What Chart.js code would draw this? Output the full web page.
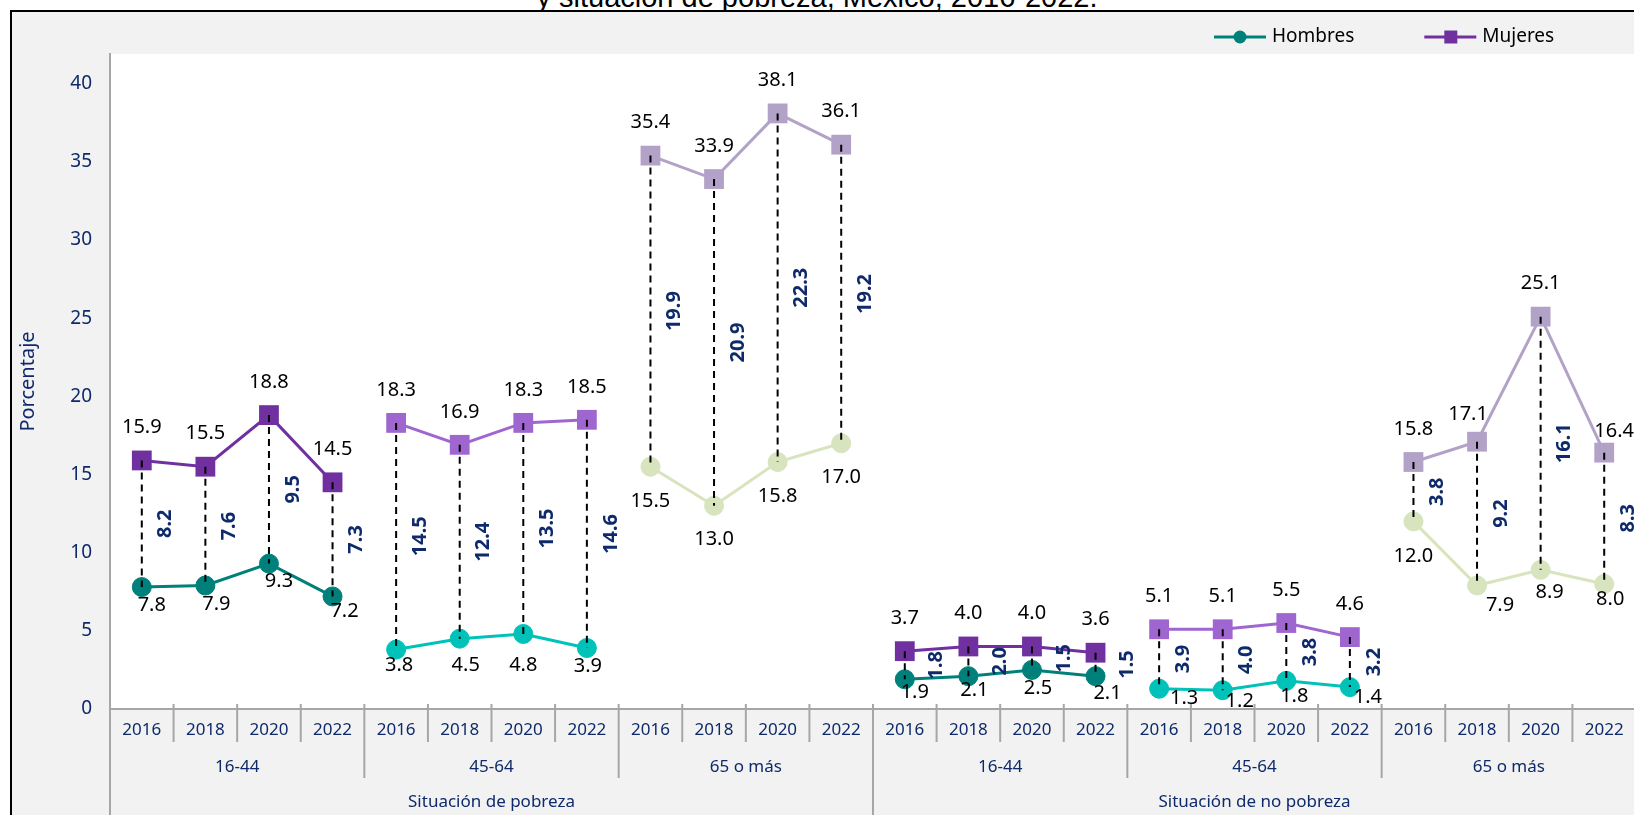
<!DOCTYPE html>
<html>
<head>
<meta charset="utf-8">
<script src="https://cdn.jsdelivr.net/npm/chart.js"></script>
<style>
html, body { margin: 0; padding: 0; background: #fff; overflow: hidden; }
#titulo { position: absolute; left: 0; top: -20px; width: 1634px; text-align: center; font: 29px "Liberation Sans", Arial, sans-serif; line-height: 34px; color: #000; white-space: nowrap; }
#marco { position: absolute; left: 10px; top: 10px; width: 1640px; height: 820px; border: 2px solid #000; box-sizing: border-box; background: #f2f2f2; }
#caja { position: absolute; left: 12px; top: 12px; }
</style>
</head>
<body>
<div id="titulo">y situación de pobreza, México, 2016-2022.</div>
<div id="marco"></div>
<div id="caja"><canvas id="grafica" width="1624" height="803"></canvas></div>
<script>
var anios = ['2016', '2018', '2020', '2022'];
var gruposEdad = ['16-44', '45-64', '65 o más'];
var situaciones = ['Situación de pobreza', 'Situación de no pobreza'];
var hombres = [7.8, 7.9, 9.3, 7.2, 3.8, 4.5, 4.8, 3.9, 15.5, 13.0, 15.8, 17.0,
               1.9, 2.1, 2.5, 2.1, 1.3, 1.2, 1.8, 1.4, 12.0, 7.9, 8.9, 8.0];
var mujeres = [15.9, 15.5, 18.8, 14.5, 18.3, 16.9, 18.3, 18.5, 35.4, 33.9, 38.1, 36.1,
               3.7, 4.0, 4.0, 3.6, 5.1, 5.1, 5.5, 4.6, 15.8, 17.1, 25.1, 16.4];
var brecha = [8.2, 7.6, 9.5, 7.3, 14.5, 12.4, 13.5, 14.6, 19.9, 20.9, 22.3, 19.2,
              1.8, 2.0, 1.5, 1.5, 3.9, 4.0, 3.8, 3.2, 3.8, 9.2, 16.1, 8.3];
var yTicks = [0, 5, 10, 15, 20, 25, 30, 35, 40];

// colores por grupo de edad
var colH = ['#00807a', '#00c2b8', '#d7e4bd'];
var colM = ['#7030a0', '#a066d0', '#b3a2c7'];
var azul = '#0e2a6b';
var fuente = '"Noto Sans", sans-serif';

// desplazamiento de las etiquetas respecto al punto (px)
var despH = [[10, 18], [11, 19], [10, 18], [12, 15], [3, 16], [6, 27], [0, 31], [1, 18],
             [0, 35], [0, 34], [0, 34], [0, 34], [10, 13], [6, 14], [6, 18], [12, 17],
             [25, 10], [17, 11], [8, 15], [18, 10], [0, 35], [23, 20], [9, 22], [6, 15]];
var despM = { 21: [-9, -27], 23: [10, -21] };

var etiquetas = [];
situaciones.forEach(function () {
    gruposEdad.forEach(function () {
        anios.forEach(function (a) { etiquetas.push(a); });
    });
});
function bloque(i) { return Math.floor(i / anios.length); }
function grupo(i) { return bloque(i) % gruposEdad.length; }

var fondoPlot = {
    id: 'fondoPlot',
    beforeDraw: function (chart) {
        var a = chart.chartArea, ctx = chart.ctx;
        ctx.save();
        ctx.fillStyle = '#fff';
        ctx.fillRect(a.left, a.top, a.right - a.left, a.bottom - a.top);
        ctx.restore();
    }
};

var brechas = {
    id: 'brechas',
    afterDatasetsDraw: function (chart) {
        var ctx = chart.ctx;
        var mh = chart.getDatasetMeta(0).data, mm = chart.getDatasetMeta(1).data;
        ctx.save();
        ctx.strokeStyle = '#000';
        ctx.lineWidth = 2;
        ctx.setLineDash([7, 5]);
        mh.forEach(function (p, i) {
            ctx.beginPath();
            ctx.moveTo(mm[i].x, mm[i].y);
            ctx.lineTo(p.x, p.y);
            ctx.stroke();
        });
        ctx.setLineDash([]);
        ctx.textAlign = 'center';
        ctx.textBaseline = 'middle';
        ctx.fillStyle = '#000';
        ctx.font = '20px ' + fuente;
        hombres.forEach(function (v, i) {
            ctx.fillText(v.toFixed(1), mh[i].x + despH[i][0], mh[i].y + despH[i][1]);
        });
        mujeres.forEach(function (v, i) {
            var d = despM[i] || [0, -33];
            ctx.fillText(v.toFixed(1), mm[i].x + d[0], mm[i].y + d[1]);
        });
        ctx.fillStyle = azul;
        ctx.font = 'bold 20px ' + fuente;
        brecha.forEach(function (v, i) {
            var x = mh[i].x + (bloque(i) === 3 ? 32 : 24);
            var y = (mh[i].y + mm[i].y) / 2;
            ctx.save();
            ctx.translate(x, y);
            ctx.rotate(-Math.PI / 2);
            ctx.fillText(v.toFixed(1), 0, 0);
            ctx.restore();
        });
        ctx.restore();
    }
};

var ejeNiveles = {
    id: 'ejeNiveles',
    afterDraw: function (chart) {
        var ctx = chart.ctx, x = chart.scales.x, a = chart.chartArea;
        var w = x.getPixelForValue(1) - x.getPixelForValue(0);
        function borde(k) { return x.getPixelForValue(0) - w / 2 + k * w; }
        ctx.save();
        ctx.strokeStyle = '#a6a6a6';
        ctx.lineWidth = 2;
        for (var k = 0; k <= etiquetas.length; k++) {
            var fin = a.bottom + 33;
            if (k % 4 === 0) fin = a.bottom + 69;
            if (k % 12 === 0) fin = chart.height;
            ctx.beginPath();
            ctx.moveTo(borde(k), a.bottom - 5);
            ctx.lineTo(borde(k), fin);
            ctx.stroke();
        }
        ctx.fillStyle = azul;
        ctx.textAlign = 'center';
        ctx.textBaseline = 'middle';
        ctx.font = '17px ' + fuente;
        for (var g = 0; g < situaciones.length * gruposEdad.length; g++) {
            ctx.fillText(gruposEdad[g % 3], (borde(g * 4) + borde(g * 4 + 4)) / 2, a.bottom + 58);
        }
        situaciones.forEach(function (s, j) {
            ctx.fillText(s, (borde(j * 12) + borde(j * 12 + 12)) / 2, a.bottom + 93);
        });
        ctx.restore();
    }
};

var leyenda = {
    id: 'leyenda',
    afterDraw: function (chart) {
        var ctx = chart.ctx, x = 1202, y = 25;
        ctx.save();
        ctx.font = '19px ' + fuente;
        ctx.textBaseline = 'middle';
        ctx.textAlign = 'left';
        chart.data.datasets.forEach(function (ds, i) {
            ctx.strokeStyle = ds.borderColor;
            ctx.lineWidth = 3;
            ctx.beginPath();
            ctx.moveTo(x, y);
            ctx.lineTo(x + 52, y);
            ctx.stroke();
            ctx.fillStyle = ds.borderColor;
            if (i === 0) {
                ctx.beginPath();
                ctx.arc(x + 26, y, 6.5, 0, 2 * Math.PI);
                ctx.fill();
            } else {
                ctx.fillRect(x + 20, y - 6.5, 13, 13);
            }
            ctx.fillStyle = '#000';
            ctx.fillText(ds.label, x + 58, y);
            x += 58 + ctx.measureText(ds.label).width + 70;
        });
        ctx.restore();
    }
};

Chart.defaults.font.family = fuente;

new Chart('grafica', {
    type: 'line',
    data: {
        labels: etiquetas,
        datasets: [{
            label: 'Hombres',
            data: hombres,
            borderColor: colH[0],
            borderWidth: 3,
            pointStyle: 'circle',
            pointRadius: 9.5,
            pointBorderWidth: 1,
            pointBackgroundColor: hombres.map(function (v, i) { return colH[grupo(i)]; }),
            pointBorderColor: hombres.map(function (v, i) { return colH[grupo(i)]; }),
            segment: {
                borderColor: function (c) {
                    return bloque(c.p0DataIndex) === bloque(c.p1DataIndex) ? colH[grupo(c.p0DataIndex)] : 'rgba(0,0,0,0)';
                }
            }
        }, {
            label: 'Mujeres',
            data: mujeres,
            borderColor: colM[0],
            borderWidth: 3,
            pointStyle: 'rect',
            pointRadius: 14,
            pointBorderWidth: 0,
            pointBackgroundColor: mujeres.map(function (v, i) { return colM[grupo(i)]; }),
            segment: {
                borderColor: function (c) {
                    return bloque(c.p0DataIndex) === bloque(c.p1DataIndex) ? colM[grupo(c.p0DataIndex)] : 'rgba(0,0,0,0)';
                }
            }
        }]
    },
    options: {
        responsive: false,
        animation: false,
        events: [],
        layout: { autoPadding: false, padding: { top: 42, left: 0, right: 0, bottom: 0 } },
        plugins: { legend: { display: false }, tooltip: { enabled: false } },
        scales: {
            x: {
                offset: true,
                grid: { display: false, drawTicks: false },
                border: { display: true, color: '#a6a6a6', width: 2 },
                ticks: { color: azul, font: { size: 17 }, padding: 11, autoSkip: false, maxRotation: 0 },
                afterFit: function (s) { s.height = 106; }
            },
            y: {
                min: 0,
                max: 41.9,
                grid: { display: false, drawTicks: false },
                border: { display: true, color: '#a6a6a6', width: 2 },
                afterBuildTicks: function (s) { s.ticks = yTicks.map(function (v) { return { value: v }; }); },
                ticks: { color: azul, font: { size: 19 }, padding: 18 },
                title: { display: true, text: 'Porcentaje', color: azul, font: { size: 20 }, padding: { top: 4, bottom: 0 } },
                afterFit: function (s) { s.width = 98; }
            }
        }
    },
    plugins: [fondoPlot, brechas, ejeNiveles, leyenda]
});
</script>
</body>
</html>
